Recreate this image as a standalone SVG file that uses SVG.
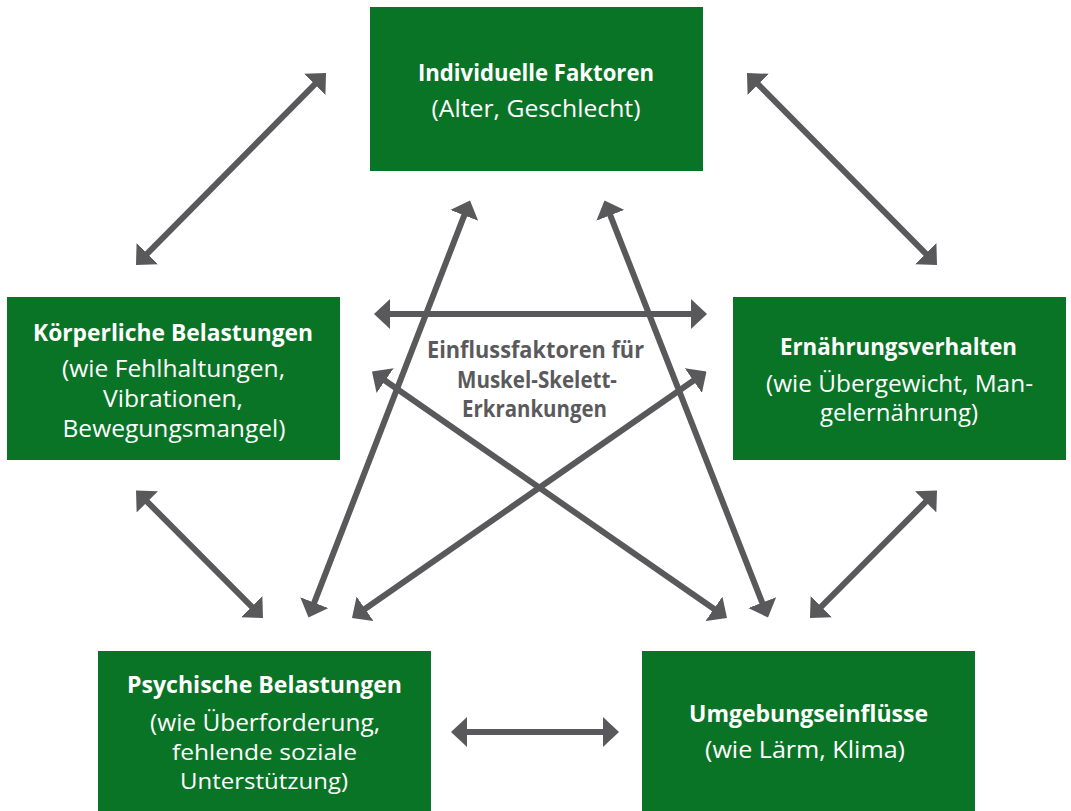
<svg xmlns="http://www.w3.org/2000/svg" width="1071" height="811" viewBox="0 0 1071 811">
  <style>
    .box { fill: #0a7426; }
    .t { font-family: "Open Sans", "Noto Sans", "Liberation Sans", sans-serif; fill: #ffffff; text-anchor: middle; font-size: 23px; font-weight: 500; }
    .b { font-weight: bold; }
    .s { font-size: 22px; }
    .c { font-family: "Open Sans", "Noto Sans", "Liberation Sans", sans-serif; fill: #5a5a5c; text-anchor: middle; font-size: 23px; font-weight: bold; }
    .conn line { stroke: #59595b; stroke-width: 6; fill: none; marker-start: url(#ah); marker-end: url(#ah); }
  </style>
  <defs>
    <marker id="ah" viewBox="0 0 16 30" refX="6" refY="15" markerWidth="16" markerHeight="30" markerUnits="userSpaceOnUse" orient="auto-start-reverse">
      <path d="M0,0 L16,15 L0,30 Z" fill="#59595b"/>
    </marker>
  </defs>
  <rect width="1071" height="811" fill="#ffffff"/>

  <g id="connectors" class="conn">
    <line x1="318.97" y1="80.11" x2="143.03" y2="257.89"/>
    <line x1="754.03" y1="80.11" x2="929.97" y2="257.89"/>
    <line x1="384" y1="314" x2="697" y2="314"/>
    <line x1="143.06" y1="497.59" x2="255.94" y2="610.92"/>
    <line x1="929.94" y1="497.59" x2="817.06" y2="610.92"/>
    <line x1="461" y1="732" x2="609" y2="732"/>
    <line x1="466.39" y1="209.82" x2="312.11" y2="608.18"/>
    <line x1="608.15" y1="209.81" x2="764.35" y2="608.19"/>
    <line x1="380.21" y1="377.20" x2="718.79" y2="612.30"/>
    <line x1="698.29" y1="377.21" x2="360.21" y2="612.29"/>
  </g>

  <g id="center-label">
    <text class="c" x="535.5" y="358" textLength="217" lengthAdjust="spacingAndGlyphs">Einflussfaktoren für</text>
    <text class="c" x="537" y="388" textLength="160" lengthAdjust="spacingAndGlyphs">Muskel-Skelett-</text>
    <text class="c" x="534.5" y="417" textLength="145" lengthAdjust="spacingAndGlyphs">Erkrankungen</text>
  </g>

  <g id="individuelle-faktoren">
    <rect class="box" x="370" y="7" width="333" height="164"/>
    <text class="t b" x="536" y="81" textLength="236" lengthAdjust="spacingAndGlyphs">Individuelle Faktoren</text>
    <text class="t" x="536" y="117" textLength="209" lengthAdjust="spacingAndGlyphs">(Alter, Geschlecht)</text>
  </g>

  <g id="koerperliche-belastungen">
    <rect class="box" x="7" y="297" width="333" height="163"/>
    <text class="t b" x="173" y="341" textLength="280" lengthAdjust="spacingAndGlyphs">Körperliche Belastungen</text>
    <text class="t" x="173.5" y="377" textLength="223" lengthAdjust="spacingAndGlyphs">(wie Fehlhaltungen,</text>
    <text class="t" x="173" y="407" textLength="140" lengthAdjust="spacingAndGlyphs">Vibrationen,</text>
    <text class="t" x="174" y="437" textLength="223" lengthAdjust="spacingAndGlyphs">Bewegungsmangel)</text>
  </g>

  <g id="ernaehrungsverhalten">
    <rect class="box" x="733" y="297" width="333" height="163"/>
    <text class="t b" x="898.5" y="355" textLength="237" lengthAdjust="spacingAndGlyphs">Ernährungsverhalten</text>
    <text class="t" x="899.5" y="392" textLength="267" lengthAdjust="spacingAndGlyphs">(wie Übergewicht, Man-</text>
    <text class="t" x="899" y="421" textLength="158" lengthAdjust="spacingAndGlyphs">gelernährung)</text>
  </g>

  <g id="psychische-belastungen">
    <rect class="box" x="98" y="651" width="333" height="160"/>
    <text class="t b" x="264.5" y="693" textLength="275" lengthAdjust="spacingAndGlyphs">Psychische Belastungen</text>
    <text class="t" x="265" y="731" textLength="230" lengthAdjust="spacingAndGlyphs">(wie Überforderung,</text>
    <text class="t s" x="264.5" y="760" textLength="185" lengthAdjust="spacingAndGlyphs">fehlende soziale</text>
    <text class="t s" x="264" y="789" textLength="168" lengthAdjust="spacingAndGlyphs">Unterstützung)</text>
  </g>

  <g id="umgebungseinfluesse">
    <rect class="box" x="642" y="651" width="333" height="160"/>
    <text class="t b" x="808.5" y="722" textLength="239" lengthAdjust="spacingAndGlyphs">Umgebungseinflüsse</text>
    <text class="t" x="805" y="758" textLength="200" lengthAdjust="spacingAndGlyphs">(wie Lärm, Klima)</text>
  </g>
</svg>
